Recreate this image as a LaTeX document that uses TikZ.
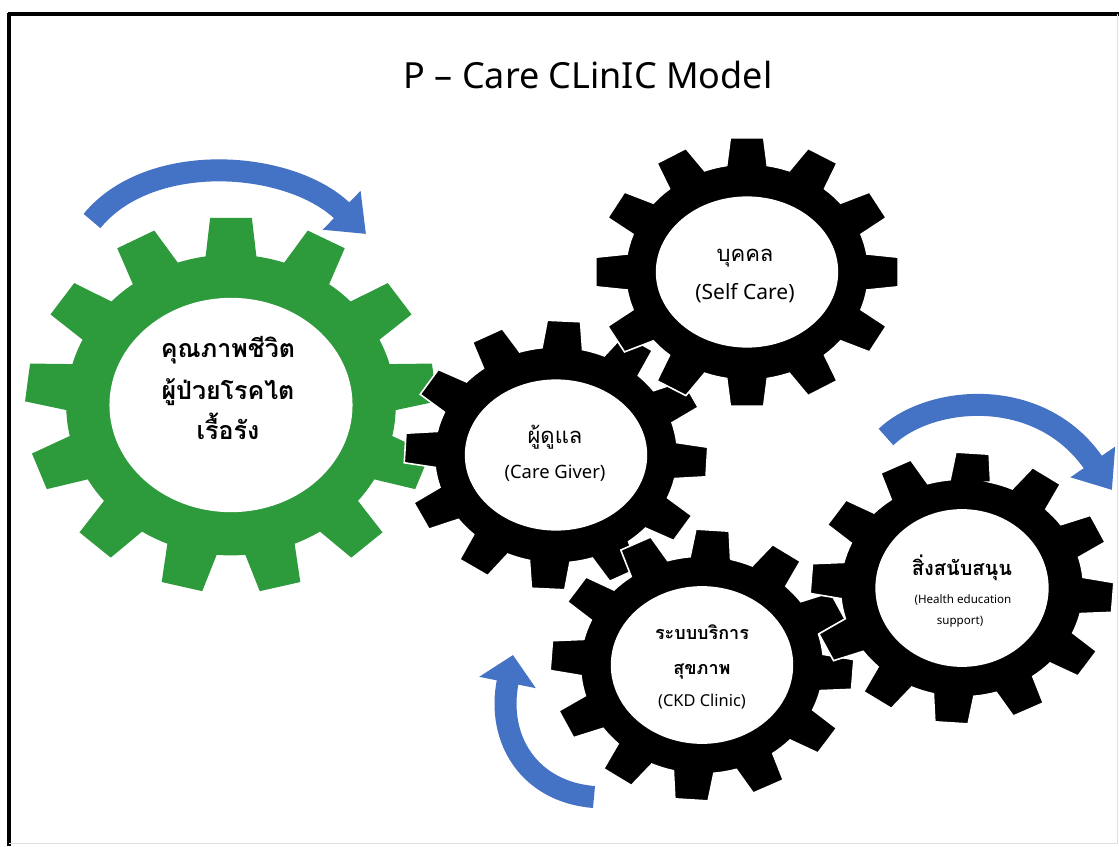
\documentclass[tikz,border=0pt]{standalone}
\usepackage{fontspec}
\setmainfont{Noto Sans}
\newfontfamily\thaifont[Script=Thai]{Loma}
\usetikzlibrary{arrows.meta, positioning}
\definecolor{cogGreen}{HTML}{2D9A3C}
\definecolor{arrowBlue}{HTML}{4472C4}
\tikzset{%
  blackcog/.style={fill=black, draw=white, line width=0.8pt},
  greencog/.style={fill=cogGreen},
  turnarrow/.style={draw=arrowBlue, line width=11pt, -{Triangle[length=17pt, width=26pt]}},
  thaitext/.style={font=\thaifont\fontsize{11}{13}\selectfont, anchor=mid, inner sep=0pt},
  thaibold/.style={font=\thaifont\bfseries\fontsize{10}{12}\selectfont, anchor=mid, inner sep=0pt},
  entext/.style={font=\fontsize{9.2}{11}\selectfont, anchor=mid, inner sep=0pt}
}
% a gear in a unit circle: teeth, root radius, phase, style
\newcommand{\cogwheel}[4]{%
  \fill[#4] ({#3-0.32*360/#1}:#2)
    \foreach \k [evaluate=\k as \c using #3+(\k-1)*360/#1] in {1,...,#1} {
      -- ({\c-0.21*360/#1}:1) -- ({\c+0.21*360/#1}:1) -- ({\c+0.32*360/#1}:#2)
      arc[start angle={\c+0.32*360/#1}, end angle={\c+0.68*360/#1}, radius=#2]
    } -- cycle;
}

\begin{document}
\begin{tikzpicture}[x=0.5pt, y=-0.5pt]
\useasboundingbox (0,0) rectangle (1119,846);
\fill[white] (0,0) rectangle (1119,846);

% frame
\draw[line width=2pt] (8,14) -- (1119,14);
\draw[line width=1.6pt] (9,13) -- (9,846);
\draw[black!12, line width=0.4pt] (1117,14) -- (1117,843) -- (9,843);

\node[font=\fontsize{18}{21}\selectfont, anchor=base] (title) at (588,88) {P -- Care CLinIC Model};

% gears
\begin{scope}[shift={(231,405)}, x=103pt, y=94pt]
  \cogwheel{13}{0.8}{90}{greencog}
  \fill[white] (0,0) ellipse[x radius=0.59, y radius=0.57];
\end{scope}
\begin{scope}[shift={(556,455)}, x=76pt, y=67.5pt]
  \cogwheel{12}{0.8}{87}{blackcog}
  \fill[white] (0,0) ellipse[x radius=0.6, y radius=0.56];
\end{scope}
\begin{scope}[shift={(747,272)}, x=76pt, y=67.5pt]
  \cogwheel{12}{0.8}{90}{blackcog}
  \fill[white] (0,0) ellipse[x radius=0.6, y radius=0.56];
\end{scope}
\begin{scope}[shift={(702,665)}, x=76pt, y=68pt]
  \cogwheel{12}{0.8}{86}{blackcog}
  \fill[white] (0,0) ellipse[x radius=0.6, y radius=0.58];
\end{scope}
\begin{scope}[shift={(962,588)}, x=76pt, y=68pt]
  \cogwheel{12}{0.8}{86}{blackcog}
  \fill[white] (0,0) ellipse[x radius=0.57, y radius=0.58];
\end{scope}

% labels
\node[thaibold, font=\thaifont\bfseries\fontsize{12.5}{14}\selectfont] (life1) at (228,352) {คุณภาพชีวิต};
\node[thaibold, font=\thaifont\bfseries\fontsize{12.5}{14}\selectfont] (life2) at (228,394) {ผู้ป่วยโรคไต};
\node[thaibold, font=\thaifont\bfseries\fontsize{12.5}{14}\selectfont] (life3) at (228,434) {เรื้อรัง};

\node[thaitext] (self) at (745,256) {บุคคล};
\node[entext, font=\fontsize{10.5}{12}\selectfont] (selfEn) at (745,294) {(Self Care)};

\node[thaitext] (carer) at (555,438) {ผู้ดูแล};
\node[entext] (carerEn) at (555,473) {(Care Giver)};

\node[thaibold, font=\thaifont\bfseries\fontsize{9}{11}\selectfont] (clinic1) at (702,634) {ระบบบริการ};
\node[thaibold, font=\thaifont\bfseries\fontsize{9}{11}\selectfont] (clinic2) at (702,669) {สุขภาพ};
\node[entext, font=\fontsize{8.2}{10}\selectfont] (clinicEn) at (702,701) {(CKD Clinic)};

\node[thaibold] (support) at (962,570) {สิ่งสนับสนุน};
\node[entext, font=\fontsize{5.8}{7}\selectfont] (supportEn1) at (963,598) {(Health education};
\node[entext, font=\fontsize{5.8}{7}\selectfont] (supportEn2) at (960,619) {support)};

% turning arrows
\coordinate (topS) at (92,221);
\coordinate (topE) at (366,234);
\draw[turnarrow] (topS) .. controls (150,150) and (290,160) .. (topE);
\coordinate (rightS) at (886,437);
\coordinate (rightE) at (1112,490);
\draw[turnarrow] (rightS) .. controls (930,395) and (1040,385) .. (rightE);
\coordinate (lowS) at (594,797);
\coordinate (lowE) at (513,655);
\draw[turnarrow, -{Triangle[length=14pt, width=28pt]}] (lowS) .. controls (530,792) and (496,740) .. (lowE);

\end{tikzpicture}
\end{document}
